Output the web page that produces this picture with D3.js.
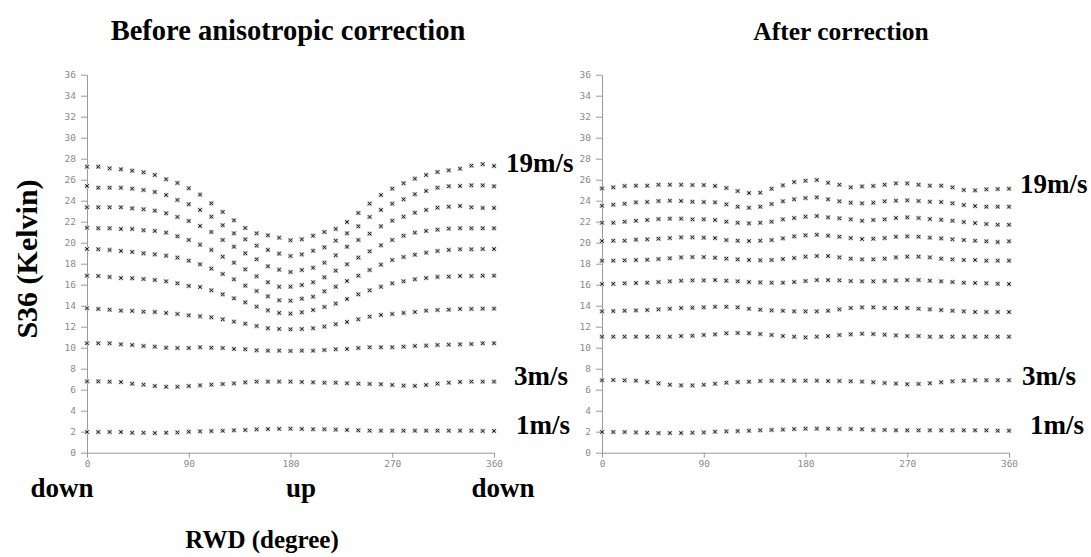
<!DOCTYPE html>
<html><head><meta charset="utf-8">
<script src="https://cdn.jsdelivr.net/npm/d3@7"></script>
<style>
body{margin:0;background:#fff;}
svg{display:block;}
.tick text{font-family:"DejaVu Sans Mono",monospace;font-size:9.5px;fill:#8a8a8a;}
.tick line,.domain{stroke:#9a9a9a;stroke-width:1;}
.lbl{font-family:"Liberation Serif","Times New Roman",serif;font-weight:bold;fill:#000;}
</style></head>
<body>
<svg id="chart" width="1091" height="557"></svg>
<script>
const degrees = d3.range(0, 361, 10);
const yTicks = d3.range(0, 37, 2);
const xTicks = [0, 90, 180, 270, 360];
const speeds = [1, 3, 5, 7, 9, 11, 13, 15, 17, 19];

// Before anisotropic correction
const before1  = [1.97,1.97,1.97,1.97,1.90,1.90,1.87,1.90,1.93,2.00,2.03,2.06,2.09,2.13,2.16,2.22,2.25,2.27,2.29,2.26,2.23,2.23,2.20,2.17,2.13,2.10,2.10,2.10,2.10,2.10,2.10,2.10,2.10,2.10,2.10,2.07,2.07];
const before3  = [6.79,6.79,6.76,6.73,6.57,6.48,6.35,6.28,6.28,6.35,6.41,6.48,6.54,6.60,6.70,6.77,6.77,6.77,6.77,6.74,6.70,6.67,6.67,6.61,6.58,6.55,6.52,6.45,6.39,6.36,6.45,6.58,6.67,6.74,6.77,6.77,6.77];
const before5  = [10.42,10.42,10.42,10.32,10.26,10.16,10.10,10.00,9.97,9.97,10.04,10.00,9.97,9.88,9.85,9.75,9.72,9.72,9.69,9.72,9.72,9.78,9.85,9.88,9.97,10.04,10.04,10.04,10.10,10.16,10.20,10.26,10.29,10.32,10.35,10.42,10.42];
const before7  = [13.75,13.69,13.62,13.53,13.50,13.43,13.40,13.31,13.21,13.08,12.99,12.89,12.70,12.48,12.29,12.07,11.85,11.78,11.75,11.78,11.85,12.01,12.23,12.45,12.70,12.96,13.12,13.21,13.31,13.40,13.53,13.59,13.62,13.69,13.69,13.72,13.72];
const before9  = [16.86,16.83,16.74,16.64,16.61,16.54,16.45,16.32,16.13,15.88,15.78,15.46,15.08,14.70,14.32,13.91,13.56,13.31,13.24,13.37,13.59,13.88,14.20,14.64,15.08,15.46,15.81,16.13,16.32,16.51,16.64,16.74,16.77,16.83,16.83,16.86,16.86];
const before11 = [19.40,19.37,19.31,19.21,19.12,18.99,18.89,18.77,18.58,18.29,17.94,17.53,17.02,16.51,15.91,15.40,14.89,14.51,14.48,14.67,14.86,15.37,15.81,16.35,16.86,17.40,17.91,18.35,18.64,18.86,19.05,19.21,19.31,19.37,19.37,19.40,19.40];
const before13 = [21.43,21.37,21.37,21.31,21.31,21.18,21.12,20.96,20.61,20.26,19.81,19.31,18.67,18.10,17.46,16.80,16.23,15.81,15.81,15.97,16.23,16.70,17.34,17.94,18.58,19.18,19.75,20.26,20.67,20.96,21.12,21.24,21.34,21.37,21.37,21.37,21.37];
const before15 = [23.37,23.37,23.37,23.37,23.27,23.18,23.05,22.80,22.45,22.07,21.59,21.02,20.26,19.62,18.99,18.42,17.75,17.43,17.21,17.40,17.62,18.10,18.80,19.62,20.26,20.86,21.56,22.10,22.48,22.86,23.12,23.34,23.43,23.50,23.37,23.31,23.31];
const before17 = [25.40,25.24,25.24,25.24,25.15,25.02,24.83,24.54,24.07,23.66,23.12,22.48,21.66,20.89,20.32,19.72,19.31,18.96,18.73,18.89,19.24,19.56,20.20,20.89,21.56,22.45,23.12,23.72,24.13,24.61,24.93,25.24,25.37,25.40,25.46,25.46,25.37];
const before19 = [27.24,27.24,27.08,26.99,26.86,26.70,26.45,26.04,25.69,25.18,24.58,23.75,22.93,22.13,21.40,20.89,20.70,20.48,20.23,20.32,20.67,21.02,21.31,21.97,22.83,23.72,24.54,25.15,25.66,26.10,26.45,26.73,26.89,27.05,27.34,27.47,27.31];

// After correction
const after1  = [1.97,1.97,1.97,1.93,1.90,1.87,1.87,1.87,1.90,1.93,2.00,2.03,2.06,2.09,2.13,2.17,2.20,2.25,2.29,2.29,2.29,2.26,2.26,2.23,2.17,2.17,2.13,2.13,2.13,2.13,2.13,2.13,2.13,2.13,2.13,2.10,2.10];
const after3  = [6.89,6.92,6.89,6.86,6.73,6.60,6.47,6.41,6.41,6.47,6.57,6.67,6.73,6.76,6.83,6.85,6.86,6.86,6.86,6.86,6.83,6.83,6.80,6.77,6.71,6.64,6.58,6.52,6.55,6.61,6.71,6.80,6.86,6.90,6.90,6.90,6.90];
const after5  = [11.05,11.05,11.05,11.05,11.05,11.05,11.05,11.11,11.14,11.21,11.27,11.37,11.40,11.37,11.30,11.21,11.11,11.05,10.98,11.05,11.11,11.21,11.27,11.33,11.30,11.24,11.17,11.11,11.11,11.05,11.05,11.05,11.05,11.05,11.05,11.05,11.05];
const after7  = [13.46,13.49,13.52,13.55,13.59,13.65,13.71,13.78,13.81,13.84,13.90,13.90,13.84,13.71,13.62,13.55,13.52,13.46,13.46,13.46,13.52,13.65,13.78,13.84,13.84,13.78,13.78,13.78,13.71,13.65,13.59,13.52,13.46,13.40,13.40,13.40,13.40];
const after9  = [16.06,16.09,16.13,16.16,16.19,16.25,16.32,16.38,16.41,16.41,16.44,16.38,16.32,16.25,16.22,16.19,16.19,16.25,16.35,16.44,16.44,16.41,16.35,16.32,16.32,16.35,16.41,16.44,16.44,16.38,16.32,16.25,16.19,16.16,16.13,16.09,16.06];
const after11 = [18.29,18.29,18.32,18.35,18.38,18.44,18.51,18.60,18.63,18.63,18.57,18.48,18.41,18.35,18.32,18.35,18.44,18.54,18.67,18.73,18.73,18.60,18.48,18.41,18.41,18.48,18.60,18.67,18.67,18.60,18.48,18.41,18.35,18.35,18.29,18.29,18.29];
const after13 = [20.16,20.19,20.19,20.29,20.32,20.38,20.44,20.51,20.51,20.48,20.44,20.25,20.19,20.16,20.19,20.25,20.41,20.60,20.70,20.76,20.67,20.57,20.44,20.35,20.38,20.44,20.57,20.60,20.57,20.48,20.41,20.32,20.25,20.19,20.13,20.06,20.13];
const after15 = [21.90,21.90,22.00,22.09,22.16,22.25,22.29,22.29,22.22,22.22,22.16,22.00,21.90,21.84,21.90,22.00,22.22,22.35,22.48,22.54,22.41,22.32,22.22,22.09,22.16,22.22,22.35,22.41,22.35,22.25,22.19,22.09,21.97,21.87,21.78,21.71,21.71];
const after17 = [23.52,23.62,23.71,23.84,23.87,23.97,24.00,23.97,23.90,23.87,23.84,23.65,23.43,23.33,23.43,23.68,23.94,24.13,24.25,24.32,24.13,23.94,23.81,23.75,23.81,23.94,24.00,24.03,23.97,23.90,23.87,23.75,23.59,23.49,23.43,23.43,23.43];
const after19 = [25.17,25.27,25.40,25.43,25.43,25.52,25.52,25.52,25.49,25.49,25.40,25.21,24.92,24.73,24.76,25.14,25.46,25.78,25.90,25.97,25.71,25.52,25.27,25.36,25.40,25.52,25.65,25.65,25.52,25.43,25.43,25.27,25.02,24.98,25.08,25.11,25.14];

const beforeSeries = [before1, before3, before5, before7, before9, before11, before13, before15, before17, before19];
const afterSeries  = [after1, after3, after5, after7, after9, after11, after13, after15, after17, after19];

const svg = d3.select("#chart");

function panel(x0, series, title, titleX, titleSize, labelX, labelYs) {
  const x = d3.scaleLinear().domain([0, 360]).range([x0, x0 + 407]);
  const y = d3.scaleLinear().domain([0, 36]).range([452.7, 74.7]);
  const g = svg.append("g");

  g.append("g").attr("transform", `translate(${x0},0)`)
    .call(d3.axisLeft(y).tickValues(yTicks).tickSize(6).tickPadding(5).tickSizeOuter(0));
  g.append("g").attr("transform", `translate(0,452.7)`)
    .call(d3.axisBottom(x).tickValues(xTicks).tickSize(5).tickPadding(3).tickSizeOuter(0));

  series.forEach((vals) => {
    const pts = g.append("g").selectAll("g").data(vals).join("g")
      .attr("transform", (d, i) => `translate(${x(degrees[i])},${y(d)})`);
    pts.append("rect").attr("x", -2.3).attr("y", -2.3).attr("width", 4.6).attr("height", 4.6)
      .attr("fill", "#c4c4c4");
    pts.append("path").attr("d", d3.symbol(d3.symbolX, 9)())
      .attr("fill", "none").attr("stroke", "#222").attr("stroke-width", 1);
  });

  svg.append("text").attr("class", "lbl").attr("x", titleX).attr("y", 40)
    .attr("text-anchor", "middle").style("font-size", titleSize + "px").text(title);

  const labelled = ["19m/s", "3m/s", "1m/s"];
  labelled.forEach((t, k) => {
    svg.append("text").attr("class", "lbl").attr("x", labelX[k]).attr("y", labelYs[k])
      .style("font-size", "27px").text(t);
  });
  return x;
}

panel(87, beforeSeries, "Before anisotropic correction", 288, 28.5, [506, 514, 516], [172, 385, 434]);
panel(602, afterSeries, "After correction", 841, 25.5, [1020, 1022, 1030], [193, 385, 434]);

svg.append("text").attr("class", "lbl")
  .attr("transform", "translate(37,259) rotate(-90)")
  .attr("text-anchor", "middle").style("font-size", "30px").text("S36 (Kelvin)");

[["down", 62], ["up", 301], ["down", 503]].forEach(([t, px]) => {
  svg.append("text").attr("class", "lbl").attr("x", px).attr("y", 497)
    .attr("text-anchor", "middle").style("font-size", "27px").text(t);
});

svg.append("text").attr("class", "lbl").attr("x", 262).attr("y", 548)
  .attr("text-anchor", "middle").style("font-size", "25px").text("RWD (degree)");
</script>
</body></html>
